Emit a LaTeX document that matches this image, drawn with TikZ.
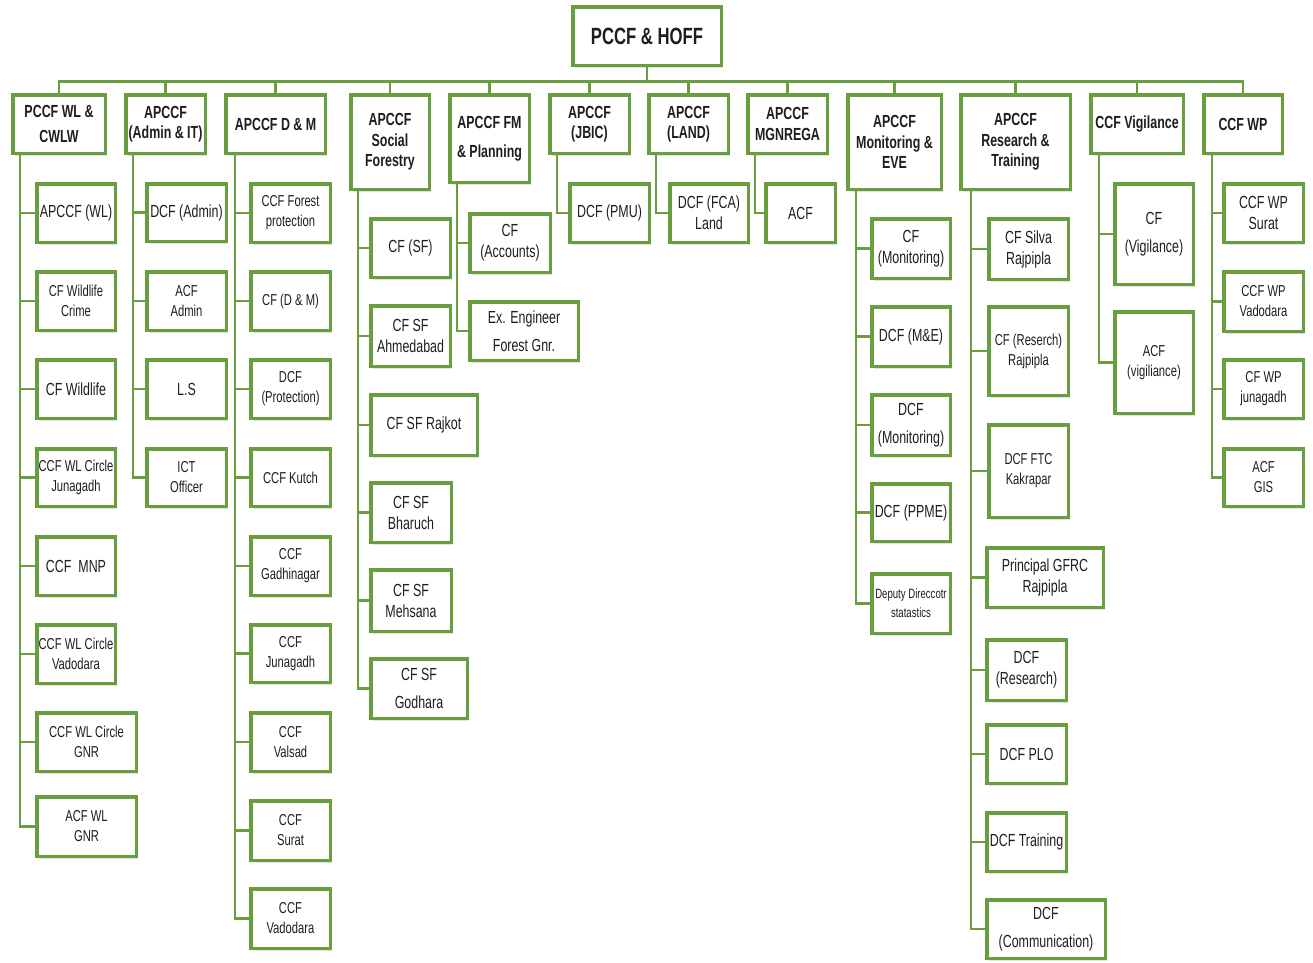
\documentclass[tikz,border=0pt]{standalone}
\usepackage{fontspec}
\setmainfont{Liberation Sans}[FakeStretch=0.71]
\usetikzlibrary{shadows}
\definecolor{grn}{RGB}{104,158,62}
\definecolor{txt}{RGB}{30,30,30}
\tikzset{
  ob/.style={draw=grn, line width=3.5pt, fill=white, inner sep=0pt, outer sep=0pt,
    align=center, text=txt, font=\fontsize{17.5}{21}\selectfont,
    drop shadow={opacity=0.22, shadow xshift=2pt, shadow yshift=-2.5pt}},
  hd/.style={font=\bfseries\fontsize{17.5}{20.5}\selectfont},
  sm/.style={font=\fontsize{15.8}{20}\selectfont},
  xs/.style={font=\fontsize{13.5}{19}\selectfont},
  top/.style={font=\bfseries\fontsize{23.5}{26}\selectfont},
  conn/.style={draw=grn, line width=2.6pt}
}
\newcommand{\obox}[7][]{\node[ob,#1,minimum width={(#5-#3)*1pt-3.5pt},minimum height={(#6-#4)*1pt-3.5pt}] (#2) at ({(#3+#5)/2},{(#4+#6)/2}) {#7};}
\begin{document}
\begin{tikzpicture}[x=1pt,y=-1pt]
\useasboundingbox (0,0) rectangle (1313,962);
% top
\obox[top]{top}{571}{5}{723}{67}{PCCF \& HOFF}
% level 1
\obox[hd]{h1}{11}{93}{107}{155}{PCCF WL \&\\[5pt]CWLW}
\obox[hd]{h2}{124}{93}{207}{155}{APCCF\\(Admin \& IT)}
\obox[hd]{h3}{224}{93}{327}{155}{APCCF D \& M}
\obox[hd]{h4}{349}{93}{431}{191}{APCCF\\Social\\Forestry}
\obox[hd]{h5}{448}{93}{531}{184}{APCCF FM\\[8pt]\& Planning}
\obox[hd]{h6}{548}{93}{631}{155}{APCCF\\(JBIC)}
\obox[hd]{h7}{647}{93}{730}{155}{APCCF\\(LAND)}
\obox[hd]{h8}{746}{93}{829}{155}{APCCF\\MGNREGA}
\obox[hd]{h9}{846}{93}{943}{191}{APCCF\\Monitoring \&\\EVE}
\obox[hd]{h10}{959}{93}{1072}{191}{APCCF\\Research \&\\Training}
\obox[hd]{h11}{1089}{93}{1185}{155}{CCF Vigilance}
\obox[hd]{h12}{1202}{93}{1284}{155}{CCF WP}
\foreach \h in {h1,h2,h3,h4,h5,h6,h7,h8,h9,h10,h11,h12}
  \draw[conn] (\h.north) -- ++(0,-13) -| (top.south);
% column 1
\obox{c1a}{35}{182}{117}{244}{APCCF (WL)}
\obox[sm]{c1b}{35}{270}{117}{332}{CF Wildlife\\Crime}
\obox{c1c}{35}{358}{117}{420}{CF Wildlife}
\obox[sm]{c1d}{35}{447}{117}{508}{CCF WL Circle\\Junagadh}
\obox{c1e}{35}{535}{117}{597}{CCF\ \ MNP}
\obox[sm]{c1f}{35}{623}{117}{685}{CCF WL Circle\\Vadodara}
\obox[sm]{c1g}{35}{711}{138}{773}{CCF WL Circle\\GNR}
\obox[sm]{c1h}{35}{795}{138}{858}{ACF WL\\GNR}
% column 2
\obox{c2a}{145}{182}{228}{243}{DCF (Admin)}
\obox[sm]{c2b}{145}{270}{228}{332}{ACF\\Admin}
\obox{c2c}{145}{358}{228}{420}{L.S}
\obox[sm]{c2d}{145}{447}{228}{508}{ICT\\Officer}
% column 3
\obox[sm]{c3a}{249}{182}{332}{244}{CCF Forest\\protection}
\obox[sm]{c3b}{249}{270}{332}{332}{CF (D \& M)}
\obox[sm]{c3c}{249}{358}{332}{420}{DCF\\(Protection)}
\obox[sm]{c3d}{249}{447}{332}{508}{CCF Kutch}
\obox[sm]{c3e}{249}{535}{332}{597}{CCF\\Gadhinagar}
\obox[sm]{c3f}{249}{623}{332}{684}{CCF\\Junagadh}
\obox[sm]{c3g}{249}{711}{332}{773}{CCF\\Valsad}
\obox[sm]{c3h}{249}{799}{332}{862}{CCF\\Surat}
\obox[sm]{c3i}{249}{887}{332}{950}{CCF\\Vadodara}
% column 4
\obox{c4a}{369}{217}{452}{279}{CF (SF)}
\obox{c4b}{369}{304}{452}{368}{CF SF\\Ahmedabad}
\obox{c4c}{369}{393}{479}{457}{CF SF Rajkot}
\obox{c4d}{369}{481}{453}{544}{CF SF\\Bharuch}
\obox{c4e}{369}{568}{453}{633}{CF SF\\Mehsana}
\obox{c4f}{369}{657}{469}{720}{CF SF\\[7pt]Godhara}
% column 5
\obox{c5a}{468}{212}{552}{274}{CF\\(Accounts)}
\obox{c5b}{468}{300}{580}{362}{Ex. Engineer\\[7pt]Forest Gnr.}
% columns 6-8
\obox{c6a}{568}{182}{651}{244}{DCF (PMU)}
\obox{c7a}{668}{182}{750}{244}{DCF (FCA)\\Land}
\obox{c8a}{764}{182}{837}{244}{ACF}
% column 9
\obox{c9a}{870}{217}{952}{280}{CF\\(Monitoring)}
\obox{c9b}{870}{305}{952}{368}{DCF (M\&E)}
\obox{c9c}{870}{393}{952}{457}{DCF\\[7pt](Monitoring)}
\obox{c9d}{870}{482}{952}{543}{DCF (PPME)}
\obox[xs]{c9e}{870}{572}{952}{635}{Deputy Direccotr\\statastics}
% column 10
\obox{c10a}{987}{217}{1070}{281}{CF Silva\\Rajpipla}
\obox[sm]{c10b}{987}{305}{1070}{397}{CF (Reserch)\\Rajpipla}
\obox[sm]{c10c}{987}{423}{1070}{519}{DCF FTC\\Kakrapar}
\obox{c10d}{985}{546}{1105}{609}{Principal GFRC\\Rajpipla}
\obox{c10e}{985}{638}{1068}{702}{DCF\\(Research)}
\obox{c10f}{985}{723}{1068}{785}{DCF PLO}
\obox{c10g}{985}{811}{1068}{873}{DCF Training}
\obox{c10h}{985}{898}{1107}{960}{DCF\\[7pt](Communication)}
% column 11
\obox{c11a}{1113}{182}{1195}{286}{CF\\[7pt](Vigilance)}
\obox[sm]{c11b}{1113}{310}{1195}{415}{ACF\\(vigiliance)}
% column 12
\obox{c12a}{1222}{182}{1305}{244}{CCF WP\\Surat}
\obox[sm]{c12b}{1222}{270}{1305}{333}{CCF WP\\Vadodara}
\obox[sm]{c12c}{1222}{358}{1305}{420}{CF WP\\junagadh}
\obox[sm]{c12d}{1222}{447}{1305}{508}{ACF\\GIS}
% spines
\coordinate (s1) at (20,155);
\coordinate (s2) at (133,155);
\coordinate (s3) at (235,155);
\coordinate (s4) at (358,191);
\coordinate (s5) at (457,184);
\coordinate (s6) at (557,155);
\coordinate (s7) at (656,155);
\coordinate (s8) at (755,155);
\coordinate (s9) at (856,191);
\coordinate (s10) at (971,191);
\coordinate (s11) at (1099,155);
\coordinate (s12) at (1212,155);
\foreach \c in {c1a,c1b,c1c,c1d,c1e,c1f,c1g,c1h} \draw[conn] (s1) |- (\c.west);
\foreach \c in {c2a,c2b,c2c,c2d} \draw[conn] (s2) |- (\c.west);
\foreach \c in {c3a,c3b,c3c,c3d,c3e,c3f,c3g,c3h,c3i} \draw[conn] (s3) |- (\c.west);
\foreach \c in {c4a,c4b,c4c,c4d,c4e,c4f} \draw[conn] (s4) |- (\c.west);
\foreach \c in {c5a,c5b} \draw[conn] (s5) |- (\c.west);
\draw[conn] (s6) |- (c6a.west);
\draw[conn] (s7) |- (c7a.west);
\draw[conn] (s8) |- (c8a.west);
\foreach \c in {c9a,c9b,c9c,c9d,c9e} \draw[conn] (s9) |- (\c.west);
\foreach \c in {c10a,c10b,c10c,c10d,c10e,c10f,c10g,c10h} \draw[conn] (s10) |- (\c.west);
\foreach \c in {c11a,c11b} \draw[conn] (s11) |- (\c.west);
\foreach \c in {c12a,c12b,c12c,c12d} \draw[conn] (s12) |- (\c.west);
\end{tikzpicture}
\end{document}
